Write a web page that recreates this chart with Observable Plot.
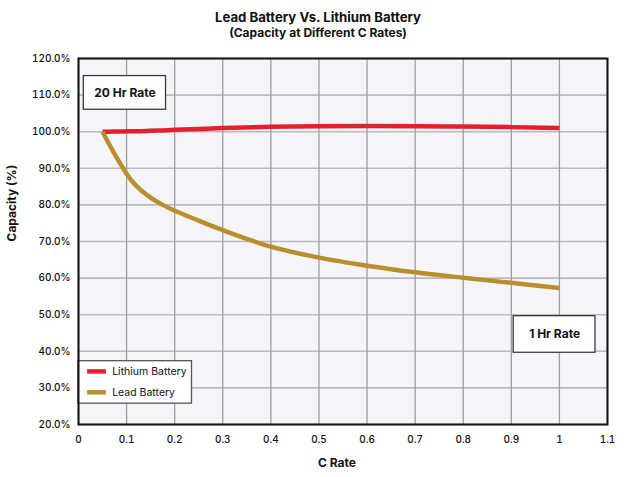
<!DOCTYPE html>
<html>
<head>
<meta charset="utf-8">
<script src="https://cdn.jsdelivr.net/npm/d3@7"></script>
<script src="https://cdn.jsdelivr.net/npm/@observablehq/plot@0.6"></script>
<style>
  body { margin: 0; background: #fff; font-family: Inter, "Open Sans", sans-serif; }
  #wrap { width: 630px; }
  .title { text-align: center; font-weight: 700; font-size: 13.2px; color: #111; padding-top: 9px; line-height: 16px; padding-left: 6px; }
  .subtitle { text-align: center; font-weight: 700; font-size: 12px; color: #111; line-height: 15px; padding-left: 6px; height: 20px; }
</style>
</head>
<body>
<div id="wrap">
  <div class="title">Lead Battery Vs. Lithium Battery</div>
  <div class="subtitle">(Capacity at Different C Rates)</div>
  <div id="chart"></div>
</div>
<script>
// ---- data ----
const cRate   = [0.05, 0.065, 0.08, 0.09, 0.1, 0.115, 0.13, 0.15, 0.175, 0.2, 0.25, 0.3, 0.4, 0.5, 0.6, 0.7, 0.8, 0.9, 1.0];
const lithium = [100, 100, 100.05, 100.05, 100.1, 100.1, 100.15, 100.25, 100.35, 100.5, 100.75, 101.0, 101.35, 101.5, 101.55, 101.5, 101.4, 101.25, 101.0];
const lead    = [100, 96.3, 92.8, 90.6, 88.5, 85.9, 84.0, 82.0, 80.0, 78.4, 75.7, 73.1, 68.6, 65.6, 63.4, 61.6, 60.1, 58.7, 57.3];
const seriesNames  = ["Lithium Battery", "Lead Battery"];
const seriesColors = ["#e3202e", "#b98f2e"];
const xTicks = [0, 0.1, 0.2, 0.3, 0.4, 0.5, 0.6, 0.7, 0.8, 0.9, 1.0, 1.1];
const yTicks = [20, 30, 40, 50, 60, 70, 80, 90, 100, 110, 120];
const annotationLabels = ["20 Hr Rate", "1 Hr Rate"];

// ---- tables built from the arrays ----
const rows = [];
cRate.forEach((c, i) => {
  rows.push({series: seriesNames[0], c, cap: lithium[i]});
  rows.push({series: seriesNames[1], c, cap: lead[i]});
});
// annotation boxes, anchored in data space
const notes = [
  {label: annotationLabels[0], x1: 0.011, x2: 0.182, y1: 106.0, y2: 115.2},
  {label: annotationLabels[1], x1: 0.905, x2: 1.075, y1: 39.6, y2: 49.6}
];
// legend (inside the plot, lower left)
const legendBox = [{x1: 0, x2: 0.236, y1: 25.7, y2: 37.3}];
const legendRows = seriesNames.map((s, i) => ({series: s, y: i === 0 ? 34.5 : 28.8}));

const chart = Plot.plot({
  width: 630,
  height: 432,
  marginTop: 13,
  marginBottom: 53,
  marginLeft: 78,
  marginRight: 23,
  style: {fontFamily: "Inter, 'Open Sans', sans-serif", fontSize: "10px", color: "#111", background: "transparent"},
  x: {domain: [0, 1.1], ticks: xTicks},
  y: {domain: [20, 120], ticks: yTicks},
  color: {domain: seriesNames, range: seriesColors},
  marks: [
    Plot.frame({fill: "#f5f5f9", stroke: null}),
    Plot.gridY(yTicks, {stroke: "#b9b9c0", strokeOpacity: 1, strokeWidth: 1.6}),
    Plot.gridX(xTicks, {stroke: "#9c9ca3", strokeOpacity: 1, strokeWidth: 1.3}),
    Plot.axisX(xTicks, {tickSize: 0, tickPadding: 11, label: null, fontWeight: 500,
      tickFormat: d => d === 0 ? "0" : d3.format("~g")(d)}),
    Plot.axisY(yTicks, {tickSize: 0, tickPadding: 8, label: null, fontWeight: 500,
      tickFormat: d => d.toFixed(1) + "%"}),
    Plot.line(rows, {x: "c", y: "cap", z: "series", stroke: "series", strokeWidth: 4.5,
      curve: "catmull-rom", strokeLinecap: "butt", strokeLinejoin: "round"}),
    // annotation boxes
    Plot.rect(notes, {x1: "x1", x2: "x2", y1: "y1", y2: "y2", fill: "white", stroke: "#3a3a3a", strokeWidth: 1.3}),
    Plot.text(notes, {x: d => (d.x1 + d.x2) / 2, y: d => (d.y1 + d.y2) / 2, text: "label",
      fontSize: 12, fontWeight: 700, fill: "#111"}),
    // legend
    Plot.rect(legendBox, {x1: "x1", x2: "x2", y1: "y1", y2: "y2", fill: "white", stroke: "#555", strokeWidth: 1.3}),
    Plot.ruleY(legendRows, {y: "y", x1: 0.019, x2: 0.058, stroke: "series", strokeWidth: 4.5}),
    Plot.text(legendRows, {y: "y", x: 0.07, text: "series", textAnchor: "start", fontSize: 10.5, fill: "#111"}),
    Plot.frame({stroke: "#111", strokeWidth: 2}),
    // axis titles
    Plot.text(["Capacity (%)"], {frameAnchor: "left", dx: -66, rotate: -90, fontSize: 12, fontWeight: 700, fill: "#111"}),
    Plot.text(["C Rate"], {frameAnchor: "bottom", dy: 42, dx: -6, fontSize: 12, fontWeight: 700, fill: "#111"})
  ]
});
document.getElementById("chart").appendChild(chart);
</script>
</body>
</html>
